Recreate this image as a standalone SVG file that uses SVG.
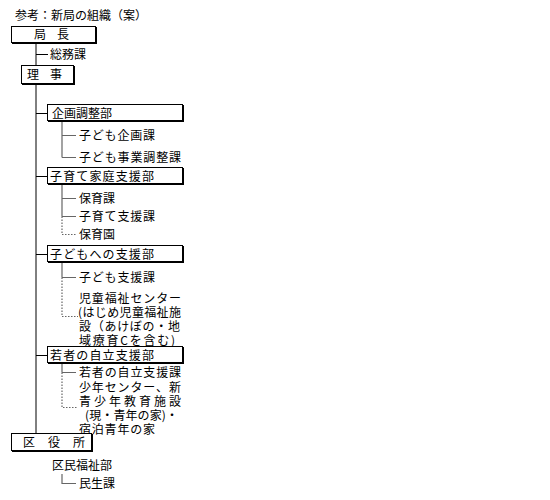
<svg xmlns="http://www.w3.org/2000/svg" width="550" height="500" viewBox="0 0 550 500">
<style>
text{font-family:"Noto Sans CJK JP","Noto Sans CJK SC",sans-serif;font-size:12px;fill:#000}
.box{fill:#fff;stroke:#000;stroke-width:1}
.sh{fill:#000}
.ln{stroke:#000;stroke-width:1;fill:none}
.sub{stroke:#666;stroke-width:1.2;fill:none}
.dot{stroke:#666;stroke-width:1.2;fill:none;stroke-dasharray:1.5 1.5}
</style>
<rect width="550" height="500" fill="#fff"/>
<text x="15" y="20">参考：新局の組織（案）</text>
<g id="connectors">
<path class="ln" d="M36 43V66M36 54.5H48M36 84V434"/>
<path class="ln" d="M36 113.5H48M36 176.5H48M36 254.5H48M36 355.5H48"/>
<path class="sub" d="M62 121V157.5M62 135.5H76M62 157.5H76"/>
<path class="sub" d="M62 184V216.5M62 198.5H76M62 216.5H76"/>
<path class="dot" d="M62 216.5V234.5H77"/>
<path class="sub" d="M62 262V277.5M62 277.5H76"/>
<path class="dot" d="M62 277.5V316.5H78"/>
<path class="sub" d="M62 363V372.5M62 372.5H76"/>
<path class="dot" d="M62 372.5V407.5H78"/>
<path class="sub" d="M62 474V483.5H76"/>
</g>
<g id="n-kyokucho"><rect class="sh" x="12" y="27" width="85" height="17"/><rect class="box" x="11.5" y="26.5" width="84" height="16"/><text y="39"><tspan x="34">局</tspan><tspan x="57">長</tspan></text></g>
<g id="n-somuka"><text x="50" y="59">総務課</text></g>
<g id="n-riji"><rect class="sh" x="22" y="66" width="53" height="19"/><rect class="box" x="21.5" y="65.5" width="52" height="18"/><text y="79"><tspan x="27">理</tspan><tspan x="50">事</tspan></text></g>
<g id="n-kikaku"><rect class="sh" x="48" y="105" width="136" height="17"/><rect class="box" x="47.5" y="104.5" width="135" height="16"/><text x="52" y="117.5">企画調整部</text></g>
<g id="n-kodomokikaku"><text x="79" y="140" textLength="76" lengthAdjust="spacing">子ども企画課</text></g>
<g id="n-jigyo"><text x="79" y="162" textLength="102" lengthAdjust="spacing">子ども事業調整課</text></g>
<g id="n-kosodate"><rect class="sh" x="48" y="168" width="136" height="17"/><rect class="box" x="47.5" y="167.5" width="135" height="16"/><text x="50" y="180.5" textLength="104" lengthAdjust="spacing">子育て家庭支援部</text></g>
<g id="n-hoiku"><text x="79" y="203">保育課</text></g>
<g id="n-kosodateshien"><text x="79" y="221" textLength="76" lengthAdjust="spacing">子育て支援課</text></g>
<g id="n-hoikuen"><text x="79" y="239">保育園</text></g>
<g id="n-kodomoshien"><rect class="sh" x="48" y="246" width="136" height="17"/><rect class="box" x="47.5" y="245.5" width="135" height="16"/><text x="50" y="258.5" textLength="104" lengthAdjust="spacing">子どもへの支援部</text></g>
<g id="n-kodomoshienka"><text x="79" y="282" textLength="76" lengthAdjust="spacing">子ども支援課</text></g>
<g id="n-jido"><text x="79" y="303" textLength="102" lengthAdjust="spacing">児童福祉センター</text><text x="78" y="317" textLength="103" lengthAdjust="spacing">(はじめ児童福祉施</text><text x="79" y="331" textLength="101" lengthAdjust="spacing">設（あけぼの・地</text><text x="79" y="345" textLength="96" lengthAdjust="spacing">域療育Cを含む)</text></g>
<g id="n-wakamono"><rect class="sh" x="48" y="347" width="136" height="17"/><rect class="box" x="47.5" y="346.5" width="135" height="16"/><text x="50" y="359.5" textLength="104" lengthAdjust="spacing">若者の自立支援部</text></g>
<g id="n-wakamonoka"><text x="79" y="377" textLength="102" lengthAdjust="spacing">若者の自立支援課</text></g>
<g id="n-shonen"><text x="79" y="392" textLength="102" lengthAdjust="spacing">少年センター、新</text><text x="79" y="406" textLength="102" lengthAdjust="spacing">青少年教育施設</text><text x="85" y="420" textLength="93" lengthAdjust="spacing">(現・青年の家)・</text><text x="79" y="434" textLength="76" lengthAdjust="spacing">宿泊青年の家</text></g>
<g id="n-kuyakusho"><rect class="sh" x="12" y="434" width="81" height="18"/><rect class="box" x="11.5" y="433.5" width="80" height="17"/><text y="447"><tspan x="23">区</tspan><tspan x="48">役</tspan><tspan x="73">所</tspan></text></g>
<g id="n-kumin"><text x="52" y="469.5">区民福祉部</text></g>
<g id="n-minsei"><text x="79" y="488">民生課</text></g>
</svg>
